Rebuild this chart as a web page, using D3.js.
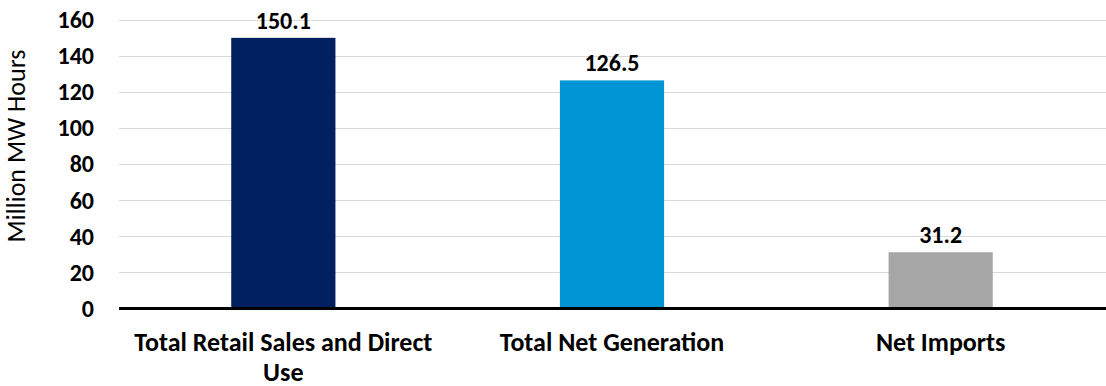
<!DOCTYPE html>
<html>
<head>
<meta charset="utf-8">
<script src="https://cdn.jsdelivr.net/npm/d3@7"></script>
<style>
  body { margin: 0; background: #fff; }
  text { font-family: Carlito, Calibri, Lato, sans-serif; }
</style>
</head>
<body>
<div id="chart"></div>
<script>
"use strict";
var w = 1106;
var h = 386;

// data
var categories = ["Total Retail Sales and Direct Use", "Total Net Generation", "Net Imports"];
var values = [150.1, 126.5, 31.2];
var barColors = ["#002060", "#0096d6", "#a6a6a6"];
var yTicks = [0, 20, 40, 60, 80, 100, 120, 140, 160];
var yTitle = "Million MW Hours";

var margin = {top: 20, right: 1, left: 119, bottom: 77};
var fontFam = "Carlito, Calibri, Lato, sans-serif";

var svg = d3.select("#chart")
    .append("svg")
    .attr("width", w)
    .attr("height", h);

var x = d3.scaleBand()
    .domain(categories)
    .range([margin.left, w - margin.right])
    .padding(0);

var y = d3.scaleLinear()
    .domain([0, 160])
    .range([h - margin.bottom - 0.5, margin.top]);

var barW = x.bandwidth() * 0.317;

// gridlines
svg.append("g")
    .selectAll("line")
    .data(yTicks.filter(function(d){ return d > 0; }))
    .enter()
    .append("line")
    .attr("x1", margin.left)
    .attr("x2", w)
    .attr("y1", function(d){ return Math.round(y(d)) + 0.5; })
    .attr("y2", function(d){ return Math.round(y(d)) + 0.5; })
    .attr("stroke", "#d9d9d9")
    .attr("stroke-width", 1);

// y tick labels
var yAxis = d3.axisLeft(y).tickValues(yTicks).tickSize(0).tickPadding(25);
var gy = svg.append("g")
    .attr("transform", "translate(" + margin.left + ",0)")
    .call(yAxis);
gy.select(".domain").remove();
gy.selectAll("text")
    .attr("font-family", fontFam)
    .attr("font-size", 24)
    .attr("font-weight", "bold")
    .attr("fill", "#000");

// bars
svg.selectAll("rect.bar")
    .data(values)
    .enter()
    .append("rect")
    .attr("class", "bar")
    .attr("x", function(d, i){ return x(categories[i]) + x.bandwidth() / 2 - barW / 2; })
    .attr("width", barW)
    .attr("y", function(d){ return y(d); })
    .attr("height", function(d){ return y(0) - y(d); })
    .attr("fill", function(d, i){ return barColors[i]; });

// value labels
svg.selectAll("text.val")
    .data(values)
    .enter()
    .append("text")
    .attr("class", "val")
    .attr("x", function(d, i){ return x(categories[i]) + x.bandwidth() / 2; })
    .attr("y", function(d){ return y(d) - 9; })
    .attr("text-anchor", "middle")
    .attr("font-size", 24)
    .attr("font-weight", "bold")
    .text(function(d){ return d3.format(".1f")(d); });

// baseline
svg.append("line")
    .attr("x1", margin.left)
    .attr("x2", w)
    .attr("y1", y(0))
    .attr("y2", y(0))
    .attr("stroke", "#000")
    .attr("stroke-width", 3);

// category labels, wrapped
var xAxis = d3.axisBottom(x).tickSize(0).tickPadding(0);
var gx = svg.append("g")
    .attr("transform", "translate(0," + y(0) + ")")
    .call(xAxis);
gx.select(".domain").remove();
gx.selectAll("text")
    .attr("font-family", fontFam)
    .attr("font-size", 26)
    .attr("font-weight", "bold")
    .attr("fill", "#000")
    .attr("dy", null)
    .attr("y", 42)
    .call(wrap, 320);

function wrap(sel, width) {
    sel.each(function() {
        var t = d3.select(this);
        var words = t.text().split(/\s+/);
        var line = [];
        var lineNo = 0;
        var yy = t.attr("y");
        t.text(null);
        var tspan = t.append("tspan").attr("x", 0).attr("y", yy);
        words.forEach(function(word) {
            line.push(word);
            tspan.text(line.join(" "));
            if (tspan.node().getComputedTextLength() > width && line.length > 1) {
                line.pop();
                tspan.text(line.join(" "));
                line = [word];
                lineNo++;
                tspan = t.append("tspan").attr("x", 0).attr("y", +yy + lineNo * 30).text(word);
            }
        });
    });
}

// y title
svg.append("text")
    .attr("transform", "translate(25,146) rotate(-90)")
    .attr("text-anchor", "middle")
    .attr("font-size", 26)
    .attr("fill", "#000")
    .text(yTitle);
</script>
</body>
</html>
